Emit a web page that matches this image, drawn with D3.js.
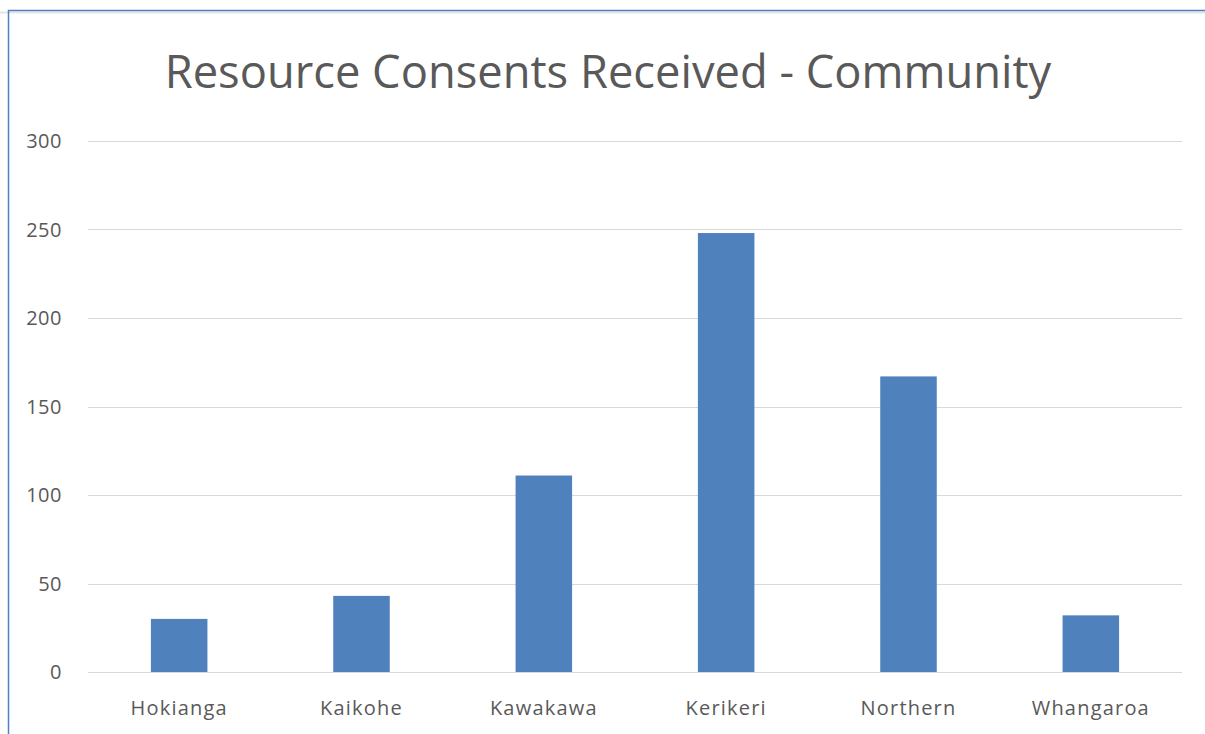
<!DOCTYPE html>
<html>
<head>
<style>
  body {
    background-color: white;
    margin: 0px;
    overflow: hidden;
  }
  text {
    font-family: "Open Sans", sans-serif;
    fill: #595959;
  }
</style>
<script src="https://cdn.jsdelivr.net/npm/d3@7"></script>
</head>
<body>
  <svg></svg>
</body>
<script>
const communities = ["Hokianga", "Kaikohe", "Kawakawa", "Kerikeri", "Northern", "Whangaroa"];
const consents = [30, 43, 111, 248, 167, 32];
const yTicks = [0, 50, 100, 150, 200, 250, 300];

const width = 1205, height = 734;
const margin = {left: 88, right: 23, top: 141, bottom: 62};

const svg = d3.select("svg")
    .attr("width", width)
    .attr("height", height)

// frame of the chart area (only left and top show in the crop)
svg.append("line")
    .attr("x1", 0).attr("x2", width)
    .attr("y1", 12.5).attr("y2", 12.5)
    .style("stroke", "#e3e3e3")
    .style("stroke-width", 2)
svg.append("path")
    .attr("d", "M8.5," + height + "V10.5H" + width)
    .style("fill", "none")
    .style("stroke", "#4f81bd")
    .style("stroke-width", 1.5)

const x = d3.scaleBand()
    .domain(communities)
    .range([margin.left, width - margin.right])
    .paddingInner(0.69)
    .paddingOuter(0.345);

const y = d3.scaleLinear()
    .domain([0, 300])
    .range([height - margin.bottom, margin.top]);

// gridlines
svg.append("g").selectAll("line")
    .data(yTicks)
  .enter().append("line")
    .attr("x1", margin.left)
    .attr("x2", width - margin.right)
    .attr("y1", function(d) {return Math.round(y(d)) + 0.5})
    .attr("y2", function(d) {return Math.round(y(d)) + 0.5})
    .style("stroke", "#d9d9d9")
    .style("stroke-width", 1.2);

// y labels
svg.append("g").selectAll("text")
    .data(yTicks)
  .enter().append("text")
    .attr("x", 62)
    .attr("y", function(d) {return y(d)})
    .attr("dy", "0.35em")
    .attr("text-anchor", "end")
    .style("font-size", "20px")
    .style("letter-spacing", "0.5px")
    .text(function(d) {return d});

// bars
svg.append("g").selectAll("rect")
    .data(consents)
  .enter().append("rect")
    .attr("x", function(d, i) {return x(communities[i])})
    .attr("width", x.bandwidth())
    .attr("y", function(d) {return y(d)})
    .attr("height", function(d) {return y(0) - y(d)})
    .style("fill", "#4f81bd");

// x labels
svg.append("g").selectAll("text")
    .data(communities)
  .enter().append("text")
    .attr("x", function(d) {return x(d) + x.bandwidth() / 2})
    .attr("y", 708)
    .attr("dy", "0.35em")
    .attr("text-anchor", "middle")
    .style("font-size", "20px")
    .style("letter-spacing", "1.2px")
    .text(function(d) {return d});

// title, scaled to the width it has in the original
const title = svg.append("text")
    .attr("x", 608)
    .attr("y", 88)
    .attr("text-anchor", "middle")
    .style("font-size", "40px")
    .text("Resource Consents Received - Community");
const tw = title.node().getComputedTextLength();
title.style("font-size", (40 * 887 / tw) + "px");
</script>
</html>
